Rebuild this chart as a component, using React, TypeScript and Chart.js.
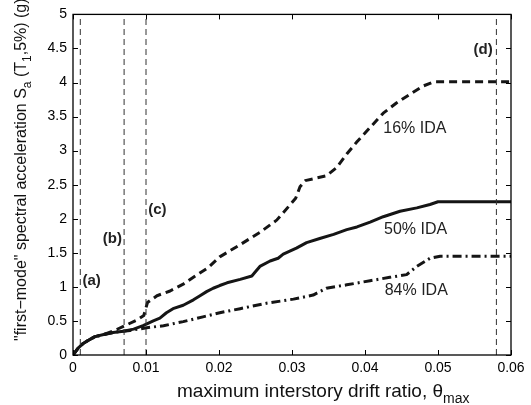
import React, { useEffect, useRef } from "react";
import { Chart, registerables } from "chart.js";

Chart.register(...registerables);

// Axis ticks
const xTicks = [0, 0.01, 0.02, 0.03, 0.04, 0.05, 0.06];
const xTickLabels = ["0", "0.01", "0.02", "0.03", "0.04", "0.05", "0.06"];
const yTicks = [0, 0.5, 1, 1.5, 2, 2.5, 3, 3.5, 4, 4.5, 5];
const yTickLabels = ["0", "0.5", "1", "1.5", "2", "2.5", "3", "3.5", "4", "4.5", "5"];

// 16% fractile IDA curve
const drift16 = [0, 0.0007, 0.0014, 0.002, 0.003, 0.0042, 0.0055, 0.0071, 0.0087, 0.0097, 0.0102, 0.0115, 0.0133, 0.0151, 0.0169, 0.0185, 0.0201, 0.0229, 0.0256, 0.0279, 0.0297, 0.0305, 0.0311, 0.0318, 0.0347, 0.0361, 0.0375, 0.0389, 0.0407, 0.0425, 0.0443, 0.0462, 0.048, 0.0494, 0.06];
const sa16 = [0, 0.1, 0.17, 0.21, 0.27, 0.3, 0.35, 0.43, 0.51, 0.58, 0.77, 0.87, 0.94, 1.04, 1.17, 1.28, 1.44, 1.62, 1.8, 1.98, 2.2, 2.3, 2.47, 2.56, 2.63, 2.75, 2.95, 3.13, 3.34, 3.55, 3.7, 3.83, 3.95, 4.01, 4.01];

// 50% fractile (median) IDA curve
const drift50 = [0, 0.0007, 0.0014, 0.002, 0.003, 0.0042, 0.0055, 0.0069, 0.0083, 0.0096, 0.011, 0.0119, 0.0128, 0.0137, 0.0151, 0.0165, 0.0174, 0.0183, 0.0192, 0.0201, 0.0211, 0.0229, 0.0245, 0.0249, 0.0256, 0.027, 0.0281, 0.0288, 0.0306, 0.032, 0.0338, 0.0357, 0.0375, 0.0389, 0.0407, 0.0425, 0.0448, 0.0471, 0.0489, 0.05, 0.06];
const sa50 = [0, 0.1, 0.17, 0.21, 0.27, 0.3, 0.33, 0.35, 0.38, 0.43, 0.5, 0.54, 0.62, 0.68, 0.73, 0.81, 0.87, 0.93, 0.98, 1.02, 1.06, 1.11, 1.16, 1.21, 1.3, 1.38, 1.42, 1.48, 1.57, 1.65, 1.71, 1.77, 1.84, 1.88, 1.95, 2.03, 2.11, 2.16, 2.21, 2.25, 2.25];

// 84% fractile IDA curve
const drift84 = [0, 0.0007, 0.0014, 0.002, 0.003, 0.0042, 0.0055, 0.0069, 0.0078, 0.0101, 0.0124, 0.0151, 0.0178, 0.0201, 0.0229, 0.0265, 0.0302, 0.0329, 0.0347, 0.0375, 0.0407, 0.0434, 0.0457, 0.0471, 0.0489, 0.0503, 0.06];
const sa84 = [0, 0.1, 0.17, 0.21, 0.27, 0.3, 0.33, 0.35, 0.36, 0.4, 0.43, 0.49, 0.56, 0.62, 0.68, 0.76, 0.82, 0.88, 0.98, 1.03, 1.09, 1.14, 1.18, 1.3, 1.42, 1.45, 1.45];

// Limit-state drift markers
const limitNames = ["(a)", "(b)", "(c)", "(d)"];
const limitDrift = [0.001, 0.007, 0.01, 0.058];

// Curve captions
const curveNames = ["16% IDA", "50% IDA", "84% IDA"];

const FONT = "'Liberation Sans', Arial, Helvetica, sans-serif";

// Text placement, in axis units
const limitLabelAt = [
  { x: 0.0013, y: 1.09, align: "left" },
  { x: 0.0067, y: 1.7, align: "right" },
  { x: 0.0103, y: 2.13, align: "left" },
  { x: 0.0575, y: 4.48, align: "right" },
];
const curveLabelAt = [
  { x: 0.0425, y: 3.33 },
  { x: 0.0426, y: 1.84 },
  { x: 0.0427, y: 0.94 },
];

type Seg = { t: string; sub?: boolean };

// draws a run of text with optional subscripts, starting at x = 0 on the baseline
function drawRich(ctx: CanvasRenderingContext2D, segs: Seg[], size: number, subSize: number) {
  let x = 0;
  segs.forEach((s) => {
    ctx.font = `${s.sub ? subSize : size}px ${FONT}`;
    ctx.fillText(s.t, x, s.sub ? Math.round(size * 0.3) : 0);
    x += ctx.measureText(s.t).width;
  });
  return x;
}

const framePlugin = {
  id: "frameAndText",
  afterDraw(chart: any) {
    const { ctx, chartArea } = chart;
    const { left, right, top, bottom } = chartArea;
    const xs = chart.scales.x;
    const ys = chart.scales.y;
    ctx.save();

    // box
    ctx.strokeStyle = "#000";
    ctx.lineWidth = 1.3;
    ctx.strokeRect(left, top, right - left, bottom - top);

    // inward ticks on all four sides
    ctx.lineWidth = 1;
    ctx.beginPath();
    xTicks.forEach((v) => {
      const px = Math.round(xs.getPixelForValue(v)) + 0.5;
      ctx.moveTo(px, bottom);
      ctx.lineTo(px, bottom - 5);
      ctx.moveTo(px, top);
      ctx.lineTo(px, top + 5);
    });
    yTicks.forEach((v) => {
      const py = Math.round(ys.getPixelForValue(v)) + 0.5;
      ctx.moveTo(left, py);
      ctx.lineTo(left + 5, py);
      ctx.moveTo(right, py);
      ctx.lineTo(right - 5, py);
    });
    ctx.stroke();

    // limit-state labels
    ctx.fillStyle = "#222";
    ctx.textBaseline = "middle";
    ctx.font = `bold 15px ${FONT}`;
    limitNames.forEach((name, i) => {
      const p = limitLabelAt[i];
      ctx.textAlign = p.align as CanvasTextAlign;
      ctx.fillText(name, xs.getPixelForValue(p.x), ys.getPixelForValue(p.y));
    });

    // curve captions
    ctx.font = `16px ${FONT}`;
    ctx.textAlign = "left";
    curveNames.forEach((name, i) => {
      const p = curveLabelAt[i];
      ctx.fillText(name, xs.getPixelForValue(p.x), ys.getPixelForValue(p.y));
    });

    // axis titles
    ctx.fillStyle = "#111";
    ctx.textBaseline = "alphabetic";
    ctx.textAlign = "left";
    ctx.save();
    ctx.translate(177, 397);
    drawRich(ctx, [{ t: "maximum interstory drift ratio, θ" }, { t: "max", sub: true }], 19, 14);
    ctx.restore();

    ctx.save();
    ctx.translate(26, 341);
    ctx.rotate(-Math.PI / 2);
    drawRich(
      ctx,
      [
        { t: "\"first\u2212mode\" spectral acceleration S" },
        { t: "a", sub: true },
        { t: " (T" },
        { t: "1", sub: true },
        { t: ",5%) (g)" },
      ],
      16,
      12
    );
    ctx.restore();

    ctx.restore();
  },
};

function pts(xv: number[], yv: number[]) {
  return xv.map((x, i) => ({ x, y: yv[i] }));
}

export default function App() {
  const ref = useRef<HTMLCanvasElement | null>(null);

  useEffect(() => {
    if (!ref.current) return;

    const curveStyle = {
      borderColor: "#151515",
      borderWidth: 3,
      pointRadius: 0,
      tension: 0,
      fill: false,
      borderJoinStyle: "round" as const,
    };

    const limitSets = limitDrift.map((d) => ({
      data: [
        { x: d, y: 0 },
        { x: d, y: 5 },
      ],
      borderColor: "#333",
      borderWidth: 1,
      borderDash: [6, 4],
      pointRadius: 0,
      fill: false,
    }));

    const chart = new Chart(ref.current, {
      type: "line",
      data: {
        datasets: [
          ...limitSets,
          { ...curveStyle, data: pts(drift16, sa16), borderDash: [8, 5] },
          { ...curveStyle, data: pts(drift50, sa50) },
          { ...curveStyle, data: pts(drift84, sa84), borderDash: [9, 4, 2, 4] },
        ],
      },
      options: {
        responsive: false,
        devicePixelRatio: 1,
        animation: false,
        layout: { padding: { top: 10, right: 20, left: 0, bottom: 0 } },
        plugins: { legend: { display: false }, tooltip: { enabled: false } },
        scales: {
          x: {
            type: "linear",
            min: 0,
            max: 0.06,
            grid: { display: false, drawTicks: false },
            border: { display: false },
            afterBuildTicks: (s: any) => {
              s.ticks = xTicks.map((v) => ({ value: v }));
            },
            afterFit: (s: any) => {
              s.height = 50;
            },
            ticks: {
              autoSkip: false,
              maxRotation: 0,
              padding: 5,
              color: "#000",
              font: { family: FONT, size: 14 },
              callback: (_v: any, i: number) => xTickLabels[i],
            },
          },
          y: {
            type: "linear",
            min: 0,
            max: 5,
            grid: { display: false, drawTicks: false },
            border: { display: false },
            afterBuildTicks: (s: any) => {
              s.ticks = yTicks.map((v) => ({ value: v }));
            },
            afterFit: (s: any) => {
              s.width = 73;
            },
            ticks: {
              autoSkip: false,
              padding: 6,
              color: "#000",
              font: { family: FONT, size: 14 },
              callback: (_v: any, i: number) => yTickLabels[i],
            },
          },
        },
      },
      plugins: [framePlugin],
    });

    return () => chart.destroy();
  }, []);

  return (
    <div style={{ position: "absolute", left: 0, top: 0, width: 531, height: 405, background: "#fff" }}>
      <canvas ref={ref} width={531} height={405} />
    </div>
  );
}
